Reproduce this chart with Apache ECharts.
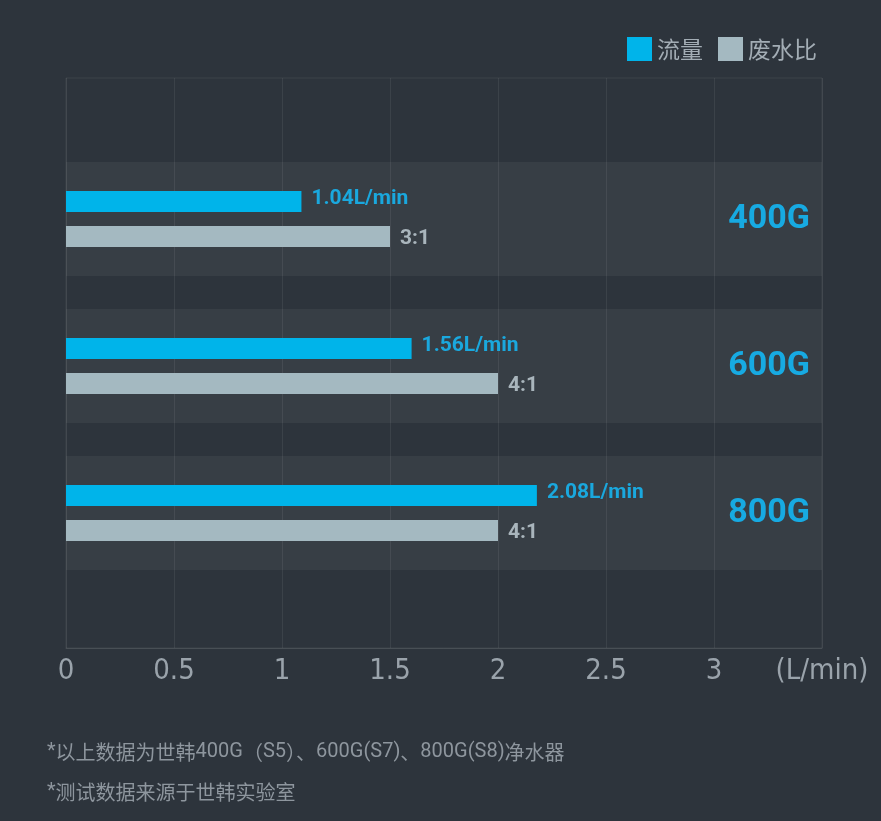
<!DOCTYPE html>
<html>
<head>
<meta charset="utf-8">
<title>流量 / 废水比</title>
<script src="https://cdn.jsdelivr.net/npm/echarts@6/dist/echarts.min.js"></script>
<style>
  html, body { margin: 0; padding: 0; background: #2d343c; }
  #chart { width: 881px; height: 821px; }
</style>
</head>
<body>
<div id="chart"></div>
<script>
// 型号
var categories = ['400G', '600G', '800G'];
// 流量 (L/min)，按柱长读取
var flowValues = [1.09, 1.6, 2.18];
var flowLabels = ['1.04L/min', '1.56L/min', '2.08L/min'];
// 废水比，按柱长读取
var wasteValues = [1.5, 2.0, 2.0];
var wasteLabels = ['3:1', '4:1', '4:1'];
// 横轴
var axisMax = 3.5;
var axisStep = 0.5;
var axisUnit = '(L/min)';
var notes = [
    '*以上数据为世韩400G（S5）、600G(S7)、800G(S8)净水器',
    '*测试数据来源于世韩实验室'
];

var chart = echarts.init(document.getElementById('chart'));

var numFont = "'Liberation Sans Narrow', 'DejaVu Sans Condensed', Roboto, sans-serif";
var boldFont = "Roboto, 'Noto Sans', sans-serif";
var cjkFont = "'Noto Sans CJK SC', sans-serif";
var lineColor = 'rgba(255,255,255,0.07)';

var bandData = categories.map(function () { return axisMax; });

// 脚注里的英文数字用 Roboto，宽一点
function noteText(t) {
    return t.replace(/[\x21-\x7e]+/g, function (m) { return '{a|' + m + '}'; });
}

var option = {
    backgroundColor: '#2d343c',
    animation: false,
    legend: {
        right: 59,
        top: 32,
        itemWidth: 25,
        itemHeight: 24,
        itemGap: 15,
        icon: 'rect',
        textStyle: { color: '#a3adb5', fontSize: 23, fontFamily: cjkFont },
        data: ['流量', '废水比']
    },
    grid: [
        // 网格和刻度
        { left: 66, right: 59, top: 78, height: 570, show: true, borderColor: lineColor, borderWidth: 1 },
        // 柱子
        { left: 66, right: 59, top: 145.5, height: 441 }
    ],
    xAxis: [
        {
            gridIndex: 0, type: 'value', min: 0, max: axisMax, interval: axisStep,
            axisLine: { show: true, lineStyle: { color: 'rgba(255,255,255,0.1)' } },
            axisTick: { show: false },
            splitLine: { show: true, lineStyle: { color: lineColor } },
            axisLabel: {
                color: '#9aa3ab', fontSize: 29, fontFamily: numFont, margin: 9,
                formatter: function (v) { return v >= axisMax ? axisUnit : String(v); }
            }
        },
        { gridIndex: 1, type: 'value', min: 0, max: axisMax, show: false }
    ],
    yAxis: [
        { gridIndex: 0, type: 'value', min: 0, max: 1, show: false },
        {
            gridIndex: 1, type: 'category', data: categories, inverse: true, position: 'right',
            axisLine: { show: false }, axisTick: { show: false },
            axisLabel: {
                inside: true, margin: 12, color: '#17aae2',
                fontSize: 34, fontWeight: 'bold', fontFamily: boldFont
            }
        },
        { gridIndex: 1, type: 'category', data: categories, inverse: true, show: false }
    ],
    series: [
        {
            name: 'band', type: 'bar', xAxisIndex: 1, yAxisIndex: 2,
            data: bandData, barWidth: 114, silent: true, z: 0,
            itemStyle: { color: 'rgba(255,255,255,0.05)' }
        },
        {
            name: '流量', type: 'bar', xAxisIndex: 1, yAxisIndex: 1,
            data: flowValues, barWidth: 21, barGap: '67%', z: 3,
            itemStyle: { color: '#00b4ea' },
            label: {
                show: true, position: 'right', distance: 10, offset: [0, -3],
                color: '#1aa8de', fontSize: 21, fontWeight: 'bold', fontFamily: boldFont,
                formatter: function (p) { return flowLabels[p.dataIndex]; }
            }
        },
        {
            name: '废水比', type: 'bar', xAxisIndex: 1, yAxisIndex: 1,
            data: wasteValues, barWidth: 21, z: 3,
            itemStyle: { color: '#a4b9c1' },
            label: {
                show: true, position: 'right', distance: 10, offset: [0, 2],
                color: '#a9b5bc', fontSize: 21, fontWeight: 'bold', fontFamily: boldFont,
                formatter: function (p) { return wasteLabels[p.dataIndex]; }
            }
        }
    ],
    graphic: notes.map(function (t, i) {
        return {
            type: 'text', left: 47, top: 742 + i * 40,
            style: {
                text: noteText(t), fill: '#8e969e', fontSize: 20, fontFamily: cjkFont,
                rich: { a: { fill: '#8e969e', fontSize: 20, fontFamily: 'Roboto, sans-serif' } }
            }
        };
    })
};

chart.setOption(option);
</script>
</body>
</html>
